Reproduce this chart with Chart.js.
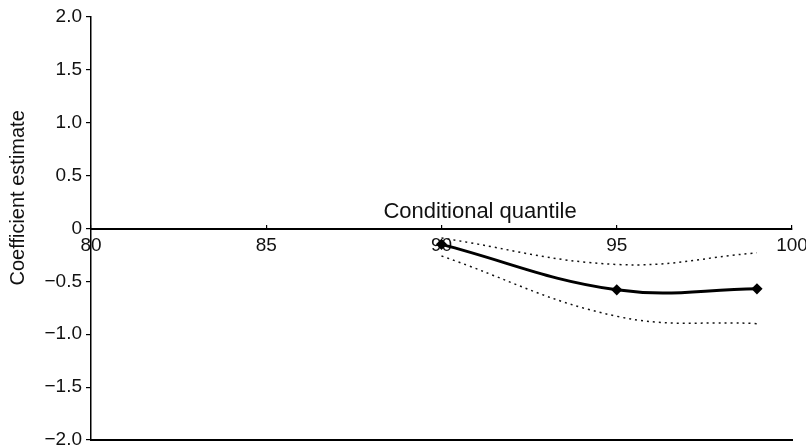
<!DOCTYPE html>
<html>
<head>
<meta charset="utf-8">
<script src="https://cdn.jsdelivr.net/npm/chart.js@4/dist/chart.umd.min.js"></script>
<style>
  html, body { margin: 0; padding: 0; background: #fff; }
  #wrap { width: 806px; height: 445px; }
</style>
</head>
<body>
<div id="wrap"><canvas id="quantChart" width="806" height="445"></canvas></div>
<script>
// --- DATA ---
const quantiles = [90, 95, 99];
const estimate = [-0.15, -0.58, -0.57];
const upperBand = [-0.09, -0.34, -0.23];
const lowerBand = [-0.26, -0.83, -0.90];
const xTicks = [80, 85, 90, 95, 100];
const yTicks = [-2.0, -1.5, -1.0, -0.5, 0, 0.5, 1.0, 1.5, 2.0];
const xTitle = 'Conditional quantile';
const yTitle = 'Coefficient estimate';

const FONT = "'Liberation Sans', Arial, Helvetica, sans-serif";

function toPoints(vals) { return quantiles.map((q, i) => ({ x: q, y: vals[i] })); }

function fmtY(v) {
    if (v === 0) return '0';
    return (v < 0 ? '\u2212' : '') + Math.abs(v).toFixed(1);
}

// scales should not push the plot area around; layout padding decides
function noEdgePadding(s) {
    s.paddingTop = 0; s.paddingBottom = 0;
    s.paddingLeft = 0; s.paddingRight = 0;
}

// titles sit in odd places (x title above the axis line), so draw them by hand
const titlesPlugin = {
    id: 'titles',
    afterDraw(chart) {
        const ctx = chart.ctx;
        const xs = chart.scales.x, ys = chart.scales.y;
        ctx.save();
        ctx.fillStyle = '#111';
        ctx.font = '22px ' + FONT;
        ctx.textAlign = 'center';
        ctx.textBaseline = 'alphabetic';
        ctx.fillText(xTitle, xs.getPixelForValue(91.1), ys.getPixelForValue(0) - 11);

        ctx.font = '20px ' + FONT;
        ctx.translate(18, ys.getPixelForValue(0.29));
        ctx.rotate(-Math.PI / 2);
        ctx.textBaseline = 'middle';
        ctx.fillText(yTitle, 0, 0);
        ctx.restore();
    }
};

new Chart(document.getElementById('quantChart'), {
    type: 'line',
    data: {
        datasets: [
            {
                label: 'Estimate',
                data: toPoints(estimate),
                borderColor: '#000',
                backgroundColor: '#000',
                borderWidth: 3,
                pointStyle: 'rectRot',
                pointRadius: 3.5,
                tension: 0.4
            },
            {
                label: 'Upper',
                data: toPoints(upperBand),
                borderColor: '#111',
                borderWidth: 1.5,
                borderDash: [2, 4],
                pointRadius: 0,
                tension: 0.4
            },
            {
                label: 'Lower',
                data: toPoints(lowerBand),
                borderColor: '#111',
                borderWidth: 1.5,
                borderDash: [2, 4],
                pointRadius: 0,
                tension: 0.4
            }
        ]
    },
    options: {
        responsive: false,
        animation: false,
        layout: { autoPadding: false, padding: { top: 17, right: 14, bottom: 5, left: 0 } },
        plugins: { legend: { display: false }, tooltip: { enabled: false } },
        scales: {
            x: {
                type: 'linear',
                position: { y: 0 },
                min: 80, max: 100,
                afterBuildTicks: (s) => { s.ticks = xTicks.map(v => ({ value: v })); },
                afterFit: noEdgePadding,
                grid: { drawOnChartArea: false, drawTicks: true, tickLength: -5, color: '#000', lineWidth: 1.2 },
                border: { display: true, color: '#000', width: 2 },
                ticks: { color: '#111', padding: 11, font: { family: FONT, size: 19 }, maxRotation: 0 }
            },
            xb: {
                type: 'linear',
                position: 'bottom',
                min: 80, max: 100,
                afterFit: (s) => { s.height = 0; noEdgePadding(s); },
                grid: { display: false },
                border: { display: true, color: '#000', width: 2 },
                ticks: { display: false }
            },
            y: {
                min: -2, max: 2,
                afterBuildTicks: (s) => { s.ticks = yTicks.map(v => ({ value: v })); },
                afterFit: (s) => { s.width = 91; noEdgePadding(s); },
                grid: { drawOnChartArea: false, drawTicks: true, tickLength: 5, color: '#000', lineWidth: 1.2 },
                border: { display: true, color: '#000', width: 1.5 },
                ticks: { color: '#111', padding: 4, font: { family: FONT, size: 19 }, callback: fmtY }
            }
        }
    },
    plugins: [titlesPlugin]
});
</script>
</body>
</html>
